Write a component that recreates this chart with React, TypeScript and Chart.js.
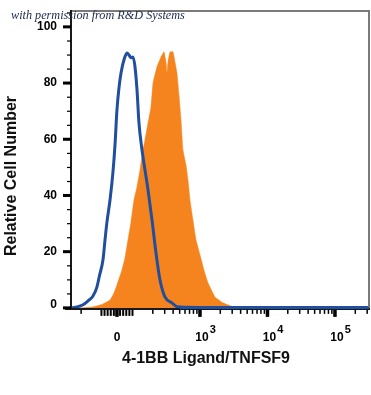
import React, { useEffect, useRef } from "react";
import { Chart, registerables } from "chart.js";

Chart.register(...registerables);

// x positions are in display decades (biexponential axis units), y is relative cell number
const blueX = [1.09, 1.18, 1.267, 1.341, 1.415, 1.474, 1.511, 1.563, 1.593, 1.622, 1.667, 1.711, 1.741, 1.77, 1.8, 1.83, 1.874, 1.919, 1.948, 1.978, 2.007, 2.037, 2.067, 2.096, 2.141, 2.185, 2.23, 2.289, 2.348, 2.407, 2.481, 2.585, 2.659, 2.778, 3.2, 4.0, 5.0, 5.52];
const blueY = [0, 0.3, 1.1, 2.5, 4.2, 7.5, 11.5, 17.1, 24.2, 30.6, 38.4, 48.4, 58, 70.5, 78.3, 83.6, 88.3, 90.7, 90, 89, 89.3, 85.8, 77.6, 65.8, 56.2, 49.1, 42, 31.3, 19.6, 10, 3.9, 1.8, 0.4, 0.2, 0.1, 0.1, 0.1, 0.1];

const orangeX = [1.222, 1.37, 1.474, 1.563, 1.667, 1.726, 1.77, 1.815, 1.844, 1.889, 1.933, 1.978, 2.022, 2.067, 2.111, 2.156, 2.185, 2.23, 2.274, 2.304, 2.363, 2.422, 2.467, 2.496, 2.511, 2.526, 2.556, 2.6, 2.63, 2.659, 2.689, 2.719, 2.748, 2.793, 2.822, 2.852, 2.896, 2.941, 3.0, 3.059, 3.119, 3.222, 3.341, 3.489, 3.667];
const orangeY = [0, 0.2, 0.7, 1.4, 2.8, 5.3, 8.2, 11.4, 13.5, 17.8, 24.2, 30.6, 38.4, 43.1, 49.1, 56.2, 59.8, 65.8, 71.5, 80, 85.8, 89.3, 91.1, 87.5, 83.6, 87.5, 91.1, 91.1, 87.5, 83.6, 75.8, 66.9, 56.2, 50.9, 45.6, 38.4, 31.3, 24.2, 18.9, 13.5, 8.9, 3.9, 1.8, 0.4, 0];

const yTickValues = [0, 20, 40, 60, 80, 100];
const yMinorStep = 5;

const xTickPos = [1.77, 3, 4, 5];
const xTickBase = ["0", "10", "10", "10"];
const xTickExp = ["", "3", "4", "5"];

// minor tick intensity values on the biexponential axis
const xLinearTicks = [-100, -80, -60, -40, -20, 0, 20, 40, 60, 80, 100];
const xLogMultipliers = [2, 3, 4, 5, 6, 7, 8, 9];
const xDecades = [100, 1000, 10000, 100000];

const ZERO_U = 1.77;
const NEG100_U = 1.54;
function toU(v: number): number {
  if (v >= 100) return Math.log10(v);
  if (v <= -100) return NEG100_U - Math.log10(-v / 100);
  if (v >= 0) return ZERO_U + (v / 100) * (2 - ZERO_U);
  return ZERO_U + (v / 100) * (ZERO_U - NEG100_U);
}

const BLUE = "#1f4f9e";
const ORANGE = "#f5841f";
const TITLE_TEXT = "with permission from R&D Systems";
const Y_TITLE = "Relative Cell Number";
const X_TITLE = "4-1BB Ligand/TNFSF9";

const decorPlugin = {
  id: "decor",
  beforeDatasetsDraw(chart: any) {
    const { ctx, chartArea } = chart;
    ctx.save();
    ctx.fillStyle = "#ffffff";
    ctx.fillRect(chartArea.left, chartArea.top, chartArea.right - chartArea.left, chartArea.bottom - chartArea.top);
    ctx.restore();
  },
  afterDatasetsDraw(chart: any) {
    const { ctx, chartArea } = chart;
    const xs = chart.scales.x;
    const ys = chart.scales.y;
    const { left, right, top, bottom } = chartArea;
    ctx.save();

    // frame
    ctx.strokeStyle = "#7a7a7a";
    ctx.lineWidth = 2;
    ctx.beginPath();
    ctx.moveTo(left, top + 1);
    ctx.lineTo(right - 1, top + 1);
    ctx.lineTo(right - 1, bottom);
    ctx.stroke();
    ctx.strokeStyle = "#1a1a1a";
    ctx.beginPath();
    ctx.moveTo(left, top);
    ctx.lineTo(left, bottom);
    ctx.stroke();
    const y0 = ys.getPixelForValue(0);
    ctx.beginPath();
    ctx.moveTo(left - 6, y0 + 1);
    ctx.lineTo(right, y0 + 1);
    ctx.stroke();

    // redraw blue baseline on top of axis where the curve sits at zero
    ctx.strokeStyle = BLUE;
    ctx.lineWidth = 2;
    ctx.beginPath();
    ctx.moveTo(xs.getPixelForValue(2.7), y0);
    ctx.lineTo(right - 1, y0);
    ctx.stroke();

    // y ticks
    ctx.fillStyle = "#000";
    for (let v = 0; v <= 105; v += yMinorStep) {
      const py = ys.getPixelForValue(v);
      if (yTickValues.includes(v)) {
        ctx.fillRect(left - 8, py - 1.5, 8, 3);
      } else {
        ctx.fillRect(left - 4, py - 0.5, 4, 1.2);
      }
    }
    ctx.font = "bold 12px 'Liberation Sans', Arial, sans-serif";
    ctx.textAlign = "right";
    ctx.textBaseline = "middle";
    for (const v of yTickValues) {
      const py = ys.getPixelForValue(v);
      ctx.fillText(String(v), left - 14, v === 0 ? py - 3 : py);
    }

    // x ticks
    const tickTop = y0 + 2;
    const drawXTick = (u: number, w: number, h: number) => {
      if (u < xs.min || u > xs.max) return;
      const px = xs.getPixelForValue(u);
      ctx.fillRect(px - w / 2, tickTop, w, h);
    };
    for (const v of xLinearTicks) drawXTick(toU(v), 2, 6);
    for (const d of xDecades) {
      for (const m of xLogMultipliers) {
        drawXTick(toU(d * m), 1.5, 4);
        drawXTick(toU(-d * m), 1.5, 4);
      }
    }
    for (const u of xTickPos) drawXTick(u, 3.5, 7);

    // x tick labels
    ctx.textBaseline = "alphabetic";
    for (let i = 0; i < xTickPos.length; i++) {
      const px = xs.getPixelForValue(xTickPos[i]);
      ctx.font = "bold 12px 'Liberation Sans', Arial, sans-serif";
      if (!xTickExp[i]) {
        ctx.textAlign = "center";
        ctx.fillText(xTickBase[i], px, y0 + 33);
      } else {
        ctx.textAlign = "center";
        ctx.fillText(xTickBase[i], px + 2, y0 + 33);
        const bw = ctx.measureText(xTickBase[i]).width;
        ctx.textAlign = "left";
        ctx.font = "bold 11px 'Liberation Sans', Arial, sans-serif";
        ctx.fillText(xTickExp[i], px + 2 + bw / 2 + 1, y0 + 25);
      }
    }

    // axis titles
    ctx.fillStyle = "#111";
    ctx.font = "bold 16px 'Liberation Sans', Arial, sans-serif";
    ctx.textAlign = "center";
    ctx.textBaseline = "middle";
    ctx.fillText(X_TITLE, 206, 359);
    ctx.save();
    ctx.translate(12, 176);
    ctx.rotate(-Math.PI / 2);
    ctx.fillText(Y_TITLE, 0, 0);
    ctx.restore();

    // permission note
    ctx.fillStyle = "#1b2650";
    let size = 12;
    ctx.font = `italic ${size}px 'Liberation Serif', 'DejaVu Serif', serif`;
    const w = ctx.measureText(TITLE_TEXT).width;
    size = size * 174 / w;
    ctx.font = `italic ${size}px 'Liberation Serif', 'DejaVu Serif', serif`;
    ctx.textAlign = "left";
    ctx.textBaseline = "alphabetic";
    ctx.fillText(TITLE_TEXT, 11, 19);

    ctx.restore();
  },
};

export default function App() {
  const ref = useRef<HTMLCanvasElement | null>(null);
  useEffect(() => {
    if (!ref.current) return;
    const chart = new Chart(ref.current, {
      type: "line",
      data: {
        datasets: [
          {
            label: "Isotype",
            data: blueX.map((x, i) => ({ x, y: blueY[i] })),
            borderColor: BLUE,
            borderWidth: 3,
            pointRadius: 0,
            fill: false,
            cubicInterpolationMode: "monotone",
            order: 0,
          },
          {
            label: "4-1BB Ligand",
            data: orangeX.map((x, i) => ({ x, y: orangeY[i] })),
            borderColor: ORANGE,
            backgroundColor: ORANGE,
            borderWidth: 0.5,
            pointRadius: 0,
            fill: "origin",
            tension: 0.1,
            order: 1,
          },
        ],
      },
      options: {
        responsive: false,
        animation: false,
        events: [],
        layout: { padding: { left: 71, right: 1, top: 10, bottom: 86 } },
        plugins: { legend: { display: false }, tooltip: { enabled: false }, title: { display: false } },
        scales: {
          x: { type: "linear", min: 1.089, max: 5.519, display: false },
          y: { type: "linear", min: -0.4, max: 106, display: false },
        },
      },
      plugins: [decorPlugin],
    });
    return () => chart.destroy();
  }, []);
  return (
    <div style={{ position: "fixed", left: 0, top: 0, width: 371, height: 395, background: "#fff" }}>
      <canvas ref={ref} width={371} height={395} style={{ display: "block", width: 371, height: 395 }} />
    </div>
  );
}
